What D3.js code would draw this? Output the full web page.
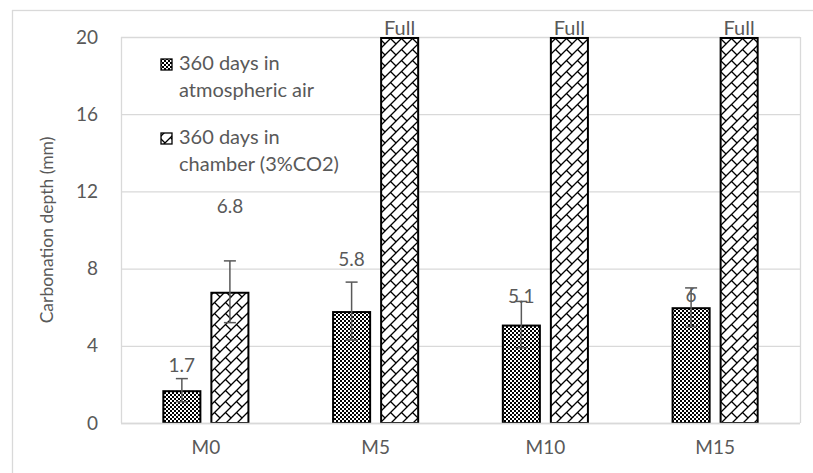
<!DOCTYPE html>
<html><head><meta charset="utf-8">
<script src="https://cdn.jsdelivr.net/npm/d3@7"></script>
<style>body{margin:0;background:#fff}svg{display:block}text{font-family:Lato,"Open Sans",sans-serif}</style>
</head><body><svg id="c" width="813" height="473"></svg>
<script>
const categories = ["M0", "M5", "M10", "M15"];
const airValues = [1.7, 5.8, 5.1, 6];
const airErrors = [0.6, 1.5, 1.2, 1.0];
const airLabels = ["1.7", "5.8", "5.1", "6"];
const chamberValues = [6.8, 20, 20, 20];
const chamberErrors = [1.6, 0, 0, 0];
const chamberLabels = ["6.8", "Full", "Full", "Full"];
const yTicks = [0, 4, 8, 12, 16, 20];
const seriesNames = [["360 days in", "atmospheric air"], ["360 days in", "chamber (3%CO2)"]];

const svg = d3.select("#c");
const defs = svg.append("defs");
const chk = defs.append("pattern").attr("id","chk").attr("patternUnits","userSpaceOnUse").attr("width",4).attr("height",4);
chk.append("rect").attr("width",4).attr("height",4).attr("fill","#fff");
chk.append("rect").attr("width",2).attr("height",2).attr("fill","#000");
chk.append("rect").attr("x",2).attr("y",2).attr("width",2).attr("height",2).attr("fill","#000");
const T = 11;
const sh = defs.append("pattern").attr("id","sh").attr("patternUnits","userSpaceOnUse").attr("width",T).attr("height",T);
sh.append("rect").attr("width",T).attr("height",T).attr("fill","#fff");
sh.append("path").attr("d",`M-1,${T+1}L${T+1},-1M-1,1L1,-1M${T-1},${T+1}L${T+1},${T-1}M${T/2},${T/2}L${T+1},${T+1}M-1,-1L0.5,0.5`)
  .attr("stroke","#000").attr("stroke-width",1.3).attr("fill","none");

// outer border
svg.append("rect").attr("x",12.5).attr("y",10.5).attr("width",820).attr("height",480).attr("fill","none").attr("stroke","#d9d9d9").attr("stroke-width",1.3);

const L = 121, R = 800, TOP = 37, BOT = 423;
const x = d3.scaleBand().domain(categories).range([L, R]);
const y = d3.scaleLinear().domain([0, 20]).range([BOT, TOP]);
const bw = x.bandwidth() * 0.23, gap = x.bandwidth() * 0.053;

// gridlines
svg.append("g").selectAll("line").data(yTicks).join("line")
  .attr("x1",L).attr("x2",R).attr("y1",d=>y(d)+0.5).attr("y2",d=>y(d)+0.5)
  .attr("stroke","#d9d9d9").attr("stroke-width",1.3);
svg.append("line").attr("x1",L+0.5).attr("x2",L+0.5).attr("y1",TOP).attr("y2",BOT).attr("stroke","#d9d9d9").attr("stroke-width",1.3);
svg.append("line").attr("x1",R+0.5).attr("x2",R+0.5).attr("y1",TOP).attr("y2",BOT).attr("stroke","#d9d9d9").attr("stroke-width",1.3);

// y tick labels
svg.append("g").selectAll("text").data(yTicks).join("text")
  .attr("x",98).attr("y",d=>y(d)).attr("dy","0.35em").attr("text-anchor","end")
  .attr("font-size",19).attr("fill","#595959").text(d=>d);
// x labels
svg.append("g").selectAll("text").data(categories).join("text")
  .attr("x",d=>x(d)+x.bandwidth()/2).attr("y",447).attr("dy","0.35em").attr("text-anchor","middle")
  .attr("font-size",19).attr("fill","#595959").text(d=>d);
// y title
svg.append("text").attr("transform","translate(47,230) rotate(-90)").attr("text-anchor","middle").attr("dy","0.35em")
  .attr("font-size",17.5).attr("fill","#595959").text("Carbonation depth (mm)");

const airX = c => x(c) + x.bandwidth()/2 - gap/2 - bw;
const chX = c => x(c) + x.bandwidth()/2 + gap/2;

svg.append("g").selectAll("rect").data(categories).join("rect")
  .attr("x",c=>airX(c)+1).attr("y",(c,i)=>y(airValues[i])+1).attr("width",bw-2).attr("height",(c,i)=>y(0)-y(airValues[i])-1)
  .attr("fill","url(#chk)").attr("stroke","#000").attr("stroke-width",2);
svg.append("g").selectAll("rect").data(categories).join("rect")
  .attr("x",c=>chX(c)+1).attr("y",(c,i)=>y(chamberValues[i])+1).attr("width",bw-2).attr("height",(c,i)=>y(0)-y(chamberValues[i])-1)
  .attr("fill","url(#sh)").attr("stroke","#000").attr("stroke-width",2);
svg.append("line").attr("x1",L).attr("x2",R).attr("y1",BOT+0.5).attr("y2",BOT+0.5).attr("stroke","#d9d9d9").attr("stroke-width",1.5);

// error bars
function errBars(vals, errs, xf){
  const g = svg.append("g").attr("stroke","#595959").attr("stroke-width",1.5);
  categories.forEach((c,i)=>{
    if(!errs[i]) return;
    const cx = xf(c) + bw/2;
    g.append("line").attr("x1",cx).attr("x2",cx).attr("y1",y(vals[i]+errs[i])).attr("y2",y(vals[i]-errs[i]));
    [vals[i]+errs[i], vals[i]-errs[i]].forEach(v=>g.append("line").attr("x1",cx-6).attr("x2",cx+6).attr("y1",y(v)).attr("y2",y(v)));
  });
}
errBars(airValues, airErrors, airX);
errBars(chamberValues, chamberErrors, chX);

// data labels: outside end (12px above bar), some moved up by hand as in the original
const airLift = [13, 40, 16, 0];
const chLift = [73, -3, -3, -3];
svg.append("g").selectAll("text").data(categories).join("text")
  .attr("x",c=>airX(c)+bw/2).attr("y",(c,i)=>y(airValues[i]) - 12 - airLift[i]).attr("dy","0.35em")
  .attr("text-anchor","middle").attr("font-size",19).attr("fill","#595959").text((c,i)=>airLabels[i]);
svg.append("g").selectAll("text").data(categories).join("text")
  .attr("x",c=>chX(c)+bw/2).attr("y",(c,i)=>y(chamberValues[i]) - 12 - chLift[i]).attr("dy","0.35em")
  .attr("text-anchor","middle").attr("font-size",(c,i)=>i===0?19:20).attr("fill","#595959").text((c,i)=>chamberLabels[i]);

// legend
const lg = svg.append("g");
const lgY = [63, 137];
["url(#chk)","url(#sh)"].forEach((f,i)=>{
  lg.append("rect").attr("x",161).attr("y",lgY[i]-4).attr("width",11).attr("height",11).attr("fill",f).attr("stroke","#000").attr("stroke-width",1.3);
  seriesNames[i].forEach((t,j)=>lg.append("text").attr("x",179).attr("y",lgY[i]+j*27).attr("dy","0.35em")
    .attr("font-size",20).attr("fill","#595959").text(t));
});
</script></body></html>
